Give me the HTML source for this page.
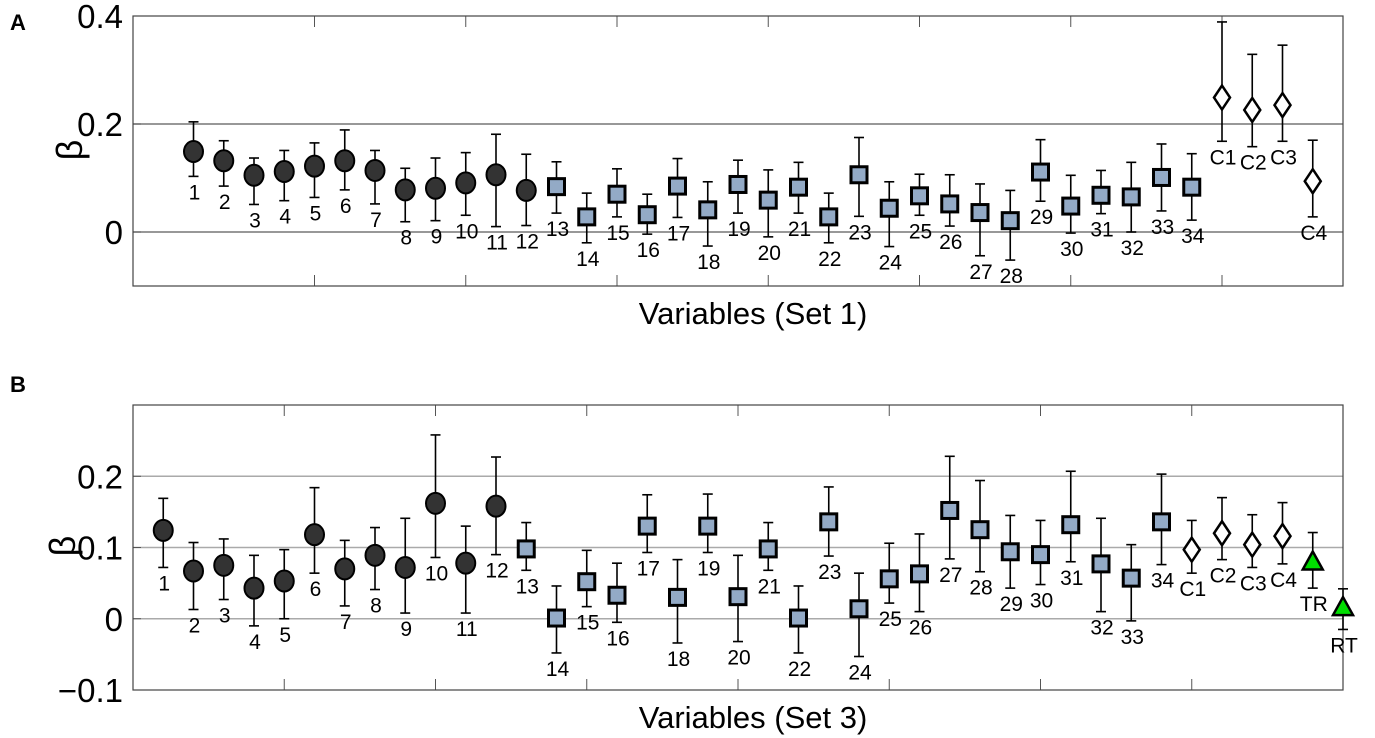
<!DOCTYPE html>
<html><head><meta charset="utf-8"><style>
html,body{margin:0;padding:0;background:#fff;}
svg{display:block;font-family:"Liberation Sans",Arial,sans-serif;}
</style></head><body>
<svg id="chart" width="1375" height="738" viewBox="0 0 1375 738" xmlns="http://www.w3.org/2000/svg"></svg>
<script>
// Panel A data (Set 1)
const catsA = ["1","2","3","4","5","6","7","8","9","10","11","12","13","14","15","16","17","18","19","20","21","22","23","24","25","26","27","28","29","30","31","32","33","34","C1","C2","C3","C4"];
const typesA = ["c","c","c","c","c","c","c","c","c","c","c","c","s","s","s","s","s","s","s","s","s","s","s","s","s","s","s","s","s","s","s","s","s","s","d","d","d","d"];
const valA = [0.149,0.132,0.105,0.112,0.122,0.132,0.114,0.078,0.081,0.091,0.106,0.077,0.084,0.028,0.070,0.032,0.085,0.041,0.088,0.059,0.083,0.028,0.106,0.044,0.067,0.052,0.036,0.021,0.111,0.048,0.068,0.065,0.101,0.083,0.249,0.226,0.235,0.094];
const hiA = [0.204,0.169,0.137,0.151,0.165,0.189,0.151,0.118,0.137,0.147,0.181,0.144,0.130,0.072,0.117,0.070,0.136,0.093,0.133,0.115,0.129,0.072,0.175,0.093,0.107,0.106,0.089,0.077,0.171,0.105,0.114,0.129,0.163,0.145,0.389,0.329,0.346,0.170];
const loA = [0.103,0.085,0.051,0.058,0.064,0.078,0.052,0.019,0.021,0.031,0.010,0.012,0.035,-0.020,0.028,-0.004,0.027,-0.026,0.035,-0.009,0.035,-0.020,0.029,-0.027,0.031,0.011,-0.044,-0.052,0.057,-0.002,0.034,0.000,0.039,0.022,0.168,0.158,0.168,0.028];
const yTicksA = [0, 0.2, 0.4];
const yTickLabelsA = ["0","0.2","0.4"];
// Panel B data (Set 3)
const catsB = ["1","2","3","4","5","6","7","8","9","10","11","12","13","14","15","16","17","18","19","20","21","22","23","24","25","26","27","28","29","30","31","32","33","34","C1","C2","C3","C4","TR","RT"];
const typesB = ["c","c","c","c","c","c","c","c","c","c","c","c","s","s","s","s","s","s","s","s","s","s","s","s","s","s","s","s","s","s","s","s","s","s","d","d","d","d","t","t"];
const valB = [0.124,0.067,0.075,0.043,0.053,0.118,0.070,0.089,0.072,0.162,0.078,0.158,0.098,0.001,0.052,0.033,0.130,0.030,0.130,0.031,0.098,0.001,0.136,0.014,0.056,0.063,0.152,0.125,0.094,0.090,0.132,0.077,0.057,0.136,0.097,0.120,0.104,0.116,0.079,0.015];
const hiB = [0.169,0.107,0.112,0.089,0.097,0.184,0.110,0.128,0.141,0.258,0.130,0.227,0.135,0.046,0.096,0.078,0.174,0.083,0.175,0.089,0.135,0.046,0.185,0.064,0.106,0.119,0.228,0.194,0.145,0.138,0.207,0.141,0.104,0.203,0.138,0.170,0.146,0.163,0.121,0.042];
const loB = [0.072,0.013,0.027,-0.010,0.000,0.064,0.018,0.041,0.008,0.086,0.008,0.090,0.068,-0.048,0.017,-0.005,0.093,-0.034,0.093,-0.032,0.068,-0.048,0.088,-0.053,0.022,0.010,0.084,0.066,0.043,0.048,0.080,0.010,-0.003,0.076,0.064,0.083,0.072,0.077,0.043,-0.015];
const yTicksB = [-0.1, 0, 0.1, 0.2];
const yTickLabelsB = ["\u22120.1","0","0.1","0.2"];

const NS = "http://www.w3.org/2000/svg";
const svg = document.getElementById("chart");
function mk(tag, attrs, parent){
  const e = document.createElementNS(NS, tag);
  for (const k in attrs) e.setAttribute(k, attrs[k]);
  (parent||svg).appendChild(e);
  return e;
}

function panel(cfg){
  const g = mk("g", {});
  
  
  const L=133, R=1343, T=cfg.top, B=cfg.bottom;
  const xs = i => L + (i - cfg.xmin) / (cfg.xmax - cfg.xmin) * (R - L);
  const ys = v => B - (v - cfg.ymin) / (cfg.ymax - cfg.ymin) * (B - T);
  cfg.yTicks.forEach((t, k) => {
    if (t > cfg.ymin && t < cfg.ymax) {
      const gl = mk("line", {x1:L, x2:R, y1:ys(t), y2:ys(t), stroke:cfg.grid, "stroke-width":1.5}, g);
      
      
    }
    const tl = mk("text", {x:123, y:ys(t)+12, "text-anchor":"end", "font-size":33, fill:"#000"}, g);
    tl.textContent = cfg.yTickLabels[k];
    
    
    mk("line", {x1:L, x2:L+8, y1:ys(t), y2:ys(t), stroke:"#555", "stroke-width":1}, g);
  });
  for (let v = 5; v < cfg.xmax; v += 5) {
    if (v <= cfg.xmin) continue;
    const tk1 = mk("line", {x1:xs(v), x2:xs(v), y1:T, y2:T+11, stroke:"#555", "stroke-width":1}, g);
    
    
    const tk2 = mk("line", {x1:xs(v), x2:xs(v), y1:B, y2:B-11, stroke:"#555", "stroke-width":1}, g);
    
    
  }
  const fr = mk("rect", {x:L, y:T, width:R-L, height:B-T, fill:"none", stroke:"#444", "stroke-width":1.2}, g);
  
  
  cfg.cats.forEach((c, i) => {
    const idx = i + 1;
    const x = xs(idx), yc = ys(cfg.val[i]), yh = ys(cfg.hi[i]), yl = ys(cfg.lo[i]);
    const pg = mk("g", {}, g);
    
    
    mk("line", {x1:x, x2:x, y1:yh, y2:yl, stroke:"#000", "stroke-width":1.6}, pg);
    mk("line", {x1:x-5, x2:x+5, y1:yh, y2:yh, stroke:"#000", "stroke-width":1.6}, pg);
    mk("line", {x1:x-5, x2:x+5, y1:yl, y2:yl, stroke:"#000", "stroke-width":1.6}, pg);
    const t = cfg.types[i];
    if (t === "c") {
      mk("ellipse", {cx:x, cy:yc, rx:9.5, ry:10.5, fill:"#333", stroke:"#000", "stroke-width":2}, pg);
    } else if (t === "s") {
      mk("rect", {x:x-8, y:yc-8, width:16, height:16, fill:"#93aac6", stroke:"#000", "stroke-width":3}, pg);
    } else if (t === "d") {
      mk("polygon", {points:`${x},${yc-12} ${x+8},${yc} ${x},${yc+12} ${x-8},${yc}`, fill:"#fff", stroke:"#000", "stroke-width":2.5}, pg);
    } else {
      mk("polygon", {points:`${x},${yc-11} ${x+10},${yc+7} ${x-10},${yc+7}`, fill:"#00dd00", stroke:"#000", "stroke-width":2.5}, pg);
    }
    const lb = mk("text", {x:x+1, y:yl+23, "text-anchor":"middle", "font-size":21, fill:"#000"}, pg);
    lb.textContent = c;
    
    
  });
  const yt = mk("text", {x:0, y:0, "text-anchor":"middle", "font-size":36, fill:"#000", transform:`translate(${cfg.betaX} ${cfg.betaY}) rotate(-90)`}, g);
  yt.textContent = "\u03B2";
  
  
  const xt = mk("text", {x:(L+R)/2 + 15, y:B+38, "text-anchor":"middle", "font-size":31, fill:"#000"}, g);
  xt.textContent = cfg.xtitle;
  
  
  const pl = mk("text", {x:10, y:cfg.letterY, "font-size":22, "font-weight":"bold", fill:"#000"}, g);
  pl.textContent = cfg.letter;
  
  
}

panel({name:"panel-a", top:16, bottom:286, xmin:-1, xmax:39, ymin:-0.1, ymax:0.4, grid:"#777",
  cats:catsA, types:typesA, val:valA, hi:hiA, lo:loA, yTicks:yTicksA, yTickLabels:yTickLabelsA,
  xtitle:"Variables (Set 1)", letter:"A", letterY:30, betaX:82, betaY:150});
panel({name:"panel-b", top:405, bottom:690, xmin:0, xmax:40, ymin:-0.1, ymax:0.3, grid:"#aaa",
  cats:catsB, types:typesB, val:valB, hi:hiB, lo:loB, yTicks:yTicksB, yTickLabels:yTickLabelsB,
  xtitle:"Variables (Set 3)", letter:"B", letterY:392, betaX:75, betaY:546});
</script>
</body></html>
